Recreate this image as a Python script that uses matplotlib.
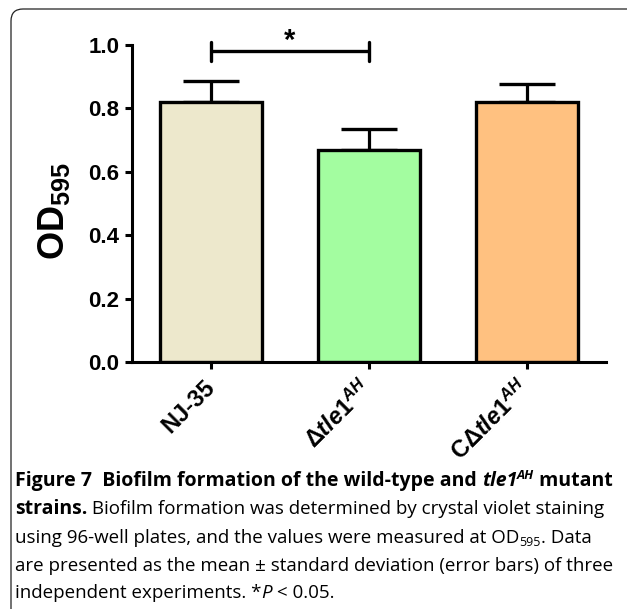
import matplotlib
matplotlib.use("Agg")
import matplotlib.pyplot as plt
import numpy as np
from matplotlib.patches import FancyBboxPatch
from matplotlib.transforms import IdentityTransform

plt.rcParams["font.family"] = "Liberation Sans"
plt.rcParams["mathtext.fontset"] = "custom"
plt.rcParams["mathtext.rm"] = "Liberation Sans:bold"
plt.rcParams["mathtext.it"] = "Liberation Sans:italic:bold"
plt.rcParams["mathtext.bf"] = "Liberation Sans:bold"

# data
strains = ["NJ-35", r"Δ$\mathit{tle1}^{\mathit{AH}}$", r"CΔ$\mathit{tle1}^{\mathit{AH}}$"]
od_mean = [0.82, 0.67, 0.82]
od_sd = [0.067, 0.066, 0.057]
bar_colors = ["#EDE8CC", "#A3FDA0", "#FFC180"]
sig_pair = (0, 1)
sig_label = "*"
yticks = [0.0, 0.2, 0.4, 0.6, 0.8, 1.0]

caption = [
    [("Figure 7  Biofilm formation of the wild-type and ", "bold"), ("tle1", "bold italic"),
     ("AH", "bold italic sup"), (" mutant", "bold")],
    [("strains.", "bold"), (" Biofilm formation was determined by crystal violet staining", "")],
    [("using 96-well plates, and the values were measured at OD", ""), ("595", "sub"),
     (". Data", "")],
    [("are presented as the mean ± standard deviation (error bars) of three", "")],
    [("independent experiments. *", ""), ("P", "italic"), (" < 0.05.", "")],
]

W, H, DPI = 627, 609, 100
fig = plt.figure(figsize=(W / DPI, H / DPI), dpi=DPI)

# rounded panel frame (open to the right / bottom)
frame = FancyBboxPatch((11, -14), 640, 614, boxstyle="round,pad=0,rounding_size=12",
                       transform=IdentityTransform(), fill=False, edgecolor="#222222",
                       linewidth=0.9)
fig.patches.append(frame)

ax = fig.add_axes([132 / W, 1 - 362 / H, (606 - 132) / W, (362 - 45) / H])
x = np.arange(len(strains))
ax.errorbar(x, od_mean, yerr=[[0] * len(od_sd), od_sd], fmt="none", ecolor="black",
            elinewidth=2.3, capsize=20, capthick=2.4, zorder=1)
ax.bar(x, od_mean, width=0.64, color=bar_colors, edgecolor="black", linewidth=2.4, zorder=2)

ax.set_xlim(-0.5, 2.5)
ax.set_ylim(0, 1.0)
ax.set_yticks(yticks)
ax.set_yticklabels(["%.1f" % v for v in yticks], fontsize=16, fontweight="bold")
ax.set_xticks(x)
ax.set_xticklabels(strains, rotation=45, ha="right", va="center", rotation_mode="anchor",
                   fontsize=17, fontweight="bold")
for s in ["top", "right"]:
    ax.spines[s].set_visible(False)
for s in ["left", "bottom"]:
    ax.spines[s].set_linewidth(2.2)
ax.tick_params(width=2.2, length=5, direction="out", pad=4)
ax.tick_params(axis="x", pad=11)
ax.set_ylabel("OD$_{595}$", fontsize=26, fontweight="bold")
ax.yaxis.set_label_coords(-0.127, 0.475)

# significance bracket
x0, x1 = sig_pair
yb = 0.98
ax.plot([x0, x1], [yb, yb], color="black", lw=2.4, clip_on=False, solid_capstyle="butt")
for xx in sig_pair:
    ax.plot([xx, xx], [yb - 0.03, yb + 0.03], color="black", lw=2.4, clip_on=False,
            solid_capstyle="round")
ax.text((x0 + x1) / 2, yb - 0.012, sig_label, ha="center", va="bottom", fontsize=21,
        fontweight="bold")

# caption, drawn piece by piece
renderer = fig.canvas.get_renderer()


def advance(t):
    s = t.get_text()
    t.set_text(s + "|")
    w1 = t.get_window_extent(renderer).width
    t.set_text("|")
    w2 = t.get_window_extent(renderer).width
    t.set_text(s)
    return w1 - w2


size = 13.5
bold_size = 14.0
baselines = [486, 514, 543, 571, 598]
for line, yb_px in zip(caption, baselines):
    xp = 15
    for s, style in line:
        flags = style.split()
        fs = bold_size if "bold" in flags else size
        kw = dict(family="Open Sans")
        dy = 0
        if "bold" in flags:
            kw["fontweight"] = "bold"
        if "italic" in flags:
            kw["fontstyle"] = "italic"
        if "sup" in flags:
            fs = fs * 0.66
            dy = 7
        if "sub" in flags:
            fs = fs * 0.66
            dy = -3
        t = fig.text(xp, H - yb_px + dy, s, transform=IdentityTransform(), ha="left",
                     va="baseline", fontsize=fs, **kw)
        xp += advance(t)

fig.savefig("out.png", dpi=DPI)
